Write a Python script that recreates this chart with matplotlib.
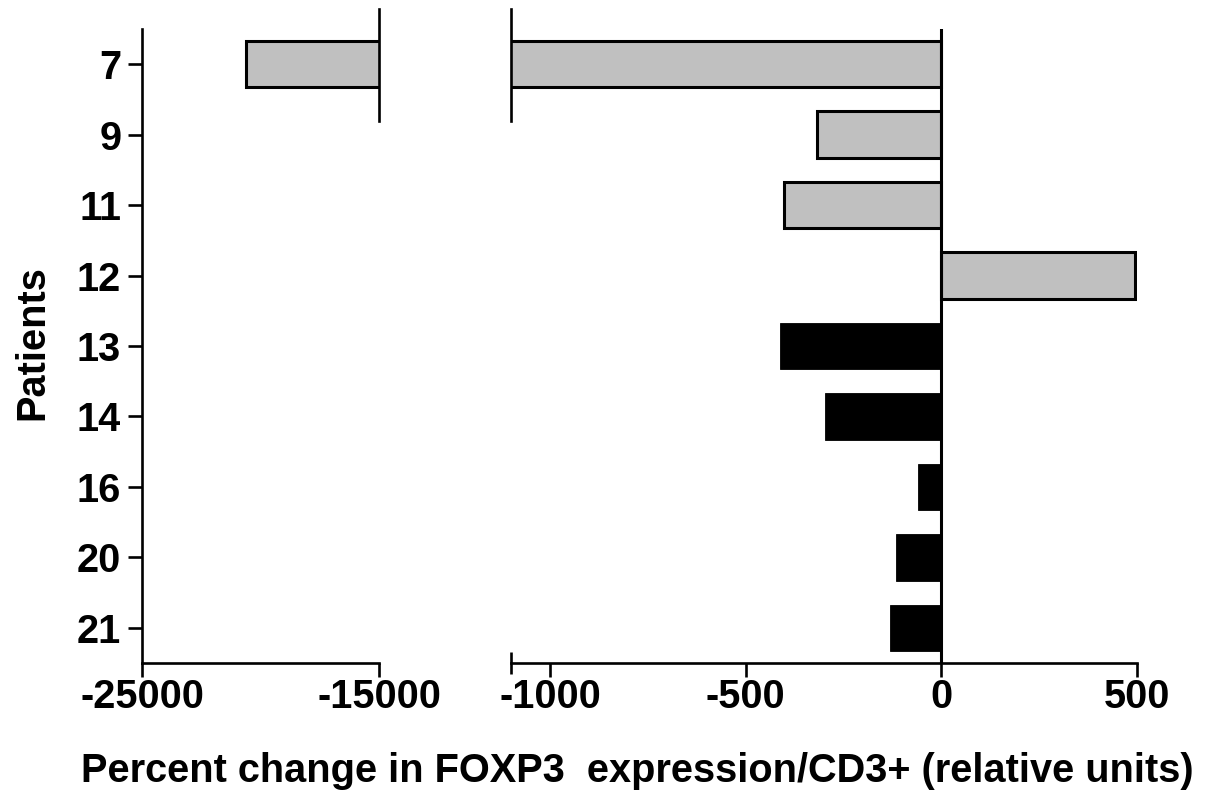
import matplotlib
matplotlib.use("Agg")
import matplotlib.pyplot as plt
from matplotlib.ticker import FixedLocator

plt.rcParams['font.family'] = ['Liberation Sans', 'DejaVu Sans']
plt.rcParams['font.weight'] = 'bold'

# ---- data ----
patients = ['7', '9', '11', '12', '13', '14', '16', '20', '21']
values = [-20600, -316, -401, 495, -413, -297, -58, -115, -130]
colors = ['#c0c0c0', '#c0c0c0', '#c0c0c0', '#c0c0c0',
          '#000000', '#000000', '#000000', '#000000', '#000000']
left_ticks = [-25000, -15000]
right_ticks = [-1000, -500, 0, 500]
left_lim = (-25000, -15000)
right_lim = (-1100, 500)
xlabel = 'Percent change in FOXP3  expression/CD3+ (relative units)'
ylabel = 'Patients'

W, H = 1205, 793
fig = plt.figure(figsize=(W / 100, H / 100), dpi=100)

def px_axes(x0, x1, y0, y1):
    return fig.add_axes([x0 / W, 1 - y1 / H, (x1 - x0) / W, (y1 - y0) / H])

ax1 = px_axes(142, 379, 29, 663)
ax2 = px_axes(511, 1136.5, 29, 663)

ypos = list(range(len(patients)))
FS = 28.6
LW = 1.9

for ax, lim in ((ax1, left_lim), (ax2, right_lim)):
    for y, v, c in zip(ypos, values, colors):
        gray = c != '#000000'
        ax.barh(y, v, height=0.66, color=c,
                edgecolor='black', linewidth=2.2 if gray else 0.6, zorder=2)
    ax.set_xlim(*lim)
    ax.set_ylim(len(patients) - 0.5, -0.5)
    ax.spines['top'].set_visible(False)
    ax.spines['right'].set_visible(False)
    ax.spines['bottom'].set_linewidth(LW)
    ax.spines['left'].set_linewidth(LW)
    ax.set_facecolor('none')

# left panel
ax1.set_yticks(ypos)
ax1.set_yticklabels(patients, fontsize=FS, fontweight='bold')
ax1.tick_params(axis='y', direction='out', length=10, width=LW, pad=5)
ax1.set_xticks(left_ticks)
ax1.set_xticklabels([f'{t}' for t in left_ticks], fontsize=FS, fontweight='bold')
ax1.xaxis.set_minor_locator(FixedLocator([left_lim[1]]))
ax1.tick_params(axis='x', which='major', direction='out', length=10, width=LW, pad=1)
ax1.tick_params(axis='x', which='minor', direction='inout', length=16, width=LW)

# right panel
ax2.spines['left'].set_visible(False)
ax2.set_yticks([])
ax2.set_xticks(right_ticks)
ax2.set_xticklabels([f'{t}' for t in right_ticks], fontsize=FS, fontweight='bold')
ax2.xaxis.set_minor_locator(FixedLocator([right_lim[0], right_lim[1]]))
ax2.tick_params(axis='x', which='major', direction='out', length=10, width=LW, pad=1)
ax2.tick_params(axis='x', which='minor', direction='inout', length=16, width=LW)
ax2.axvline(0, color='black', linewidth=2.2, zorder=3)

# break marks
ax1.plot([left_lim[1], left_lim[1]], [-0.78, 0.81], color='black', lw=LW,
         clip_on=False, zorder=4)
ax2.plot([right_lim[0], right_lim[0]], [-0.78, 0.81], color='black', lw=LW,
         clip_on=False, zorder=4)

fig.text(637 / W, 1 - 752 / H, xlabel, fontsize=FS, fontweight='bold',
         ha='center', va='top')
fig.text(32 / W, 1 - 343 / H, ylabel, fontsize=FS, fontweight='bold',
         rotation=90, ha='center', va='center')

fig.savefig('out.png', dpi=100)
